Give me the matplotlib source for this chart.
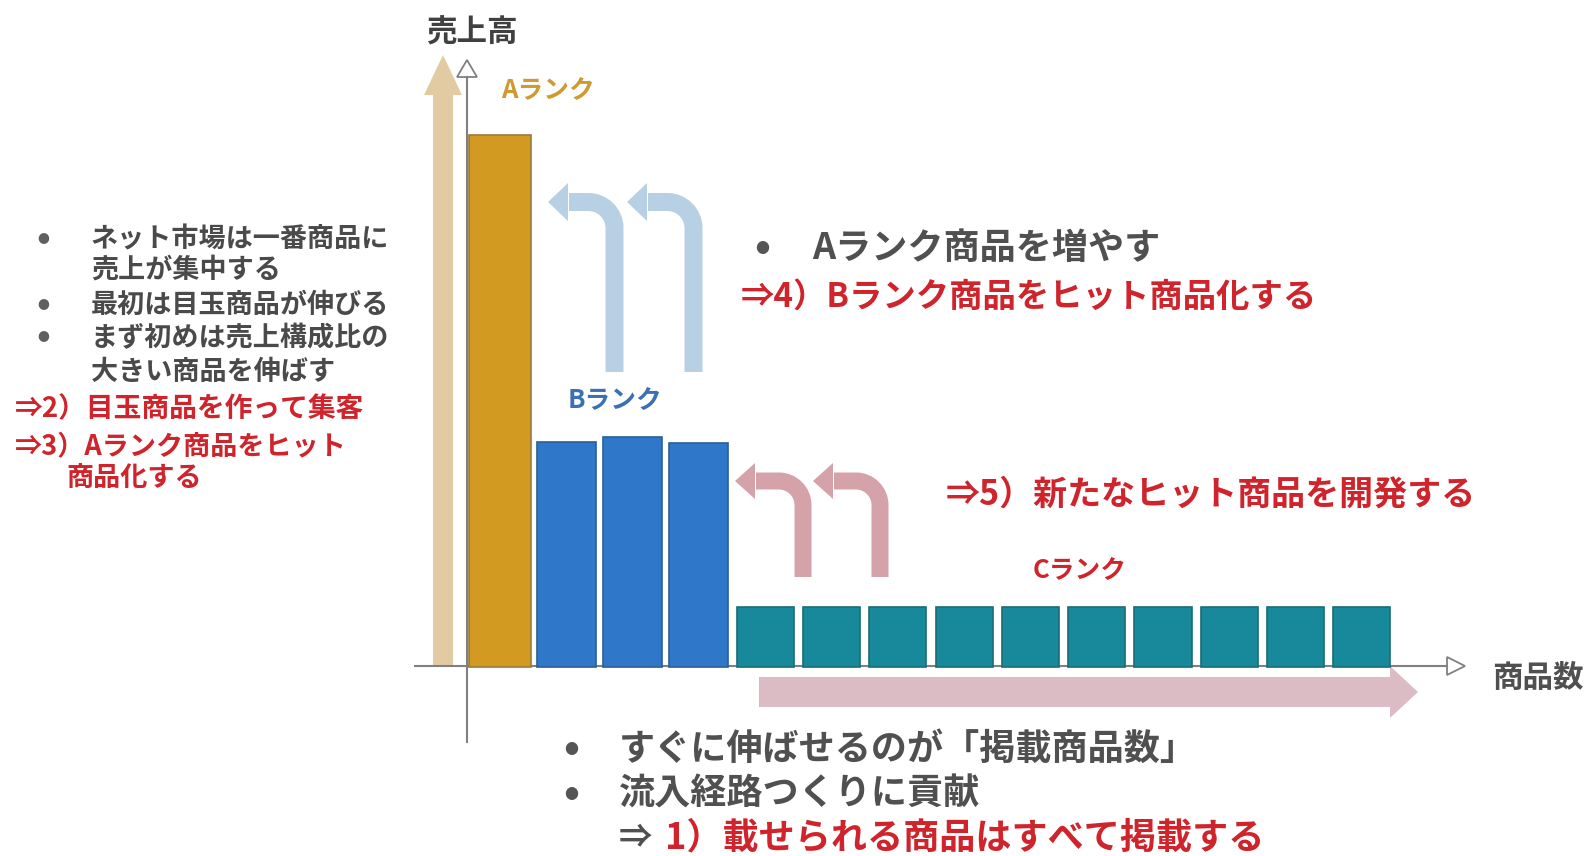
import matplotlib
matplotlib.use('Agg')
import matplotlib.pyplot as plt
from matplotlib.path import Path
from matplotlib.patches import PathPatch, Polygon, FancyArrow

plt.rcParams['font.family'] = ['Noto Sans CJK JP', 'DejaVu Sans']

# ---- data ----
ranks = ['A', 'B', 'B', 'B', 'C', 'C', 'C', 'C', 'C', 'C', 'C', 'C', 'C', 'C']
sales = [10.0, 4.23, 4.32, 4.21, 1.13, 1.13, 1.13, 1.13, 1.13, 1.13, 1.13, 1.13, 1.13, 1.13]
rank_labels = ['Aランク', 'Bランク', 'Cランク']

left_notes = ['ネット市場は一番商品に', '売上が集中する', '最初は目玉商品が伸びる',
              'まず初めは売上構成比の', '大きい商品を伸ばす']
left_actions = ['⇒2）目玉商品を作って集客', '⇒3）Aランク商品をヒット', '商品化する']
right_note = 'Aランク商品を増やす'
right_actions = ['⇒4）Bランク商品をヒット商品化する', '⇒5）新たなヒット商品を開発する']
bottom_notes = ['すぐに伸ばせるのが「掲載商品数」', '流入経路つくりに貢献']
bottom_action = '1）載せられる商品はすべて掲載する'

# ---- style ----
W, H = 1592, 856
RED = '#d0242c'
GRAY = '#505050'
bar_style = {
    'A': dict(color='#d39a22', edgecolor='#9a7a40', width=0.935),
    'B': dict(color='#2f78c9', edgecolor='#2a5f96', width=0.89),
    'C': dict(color='#18899a', edgecolor='#1a6d78', width=0.86),
}

fig = plt.figure(figsize=(W / 100, H / 100), dpi=100)
fig.patch.set_facecolor('white')

# overlay in pixel coordinates for the decorations
ov = fig.add_axes([0, 0, 1, 1], zorder=1)
ov.set_xlim(0, W)
ov.set_ylim(H, 0)
ov.axis('off')

# chart axes: bar i centred at 500 + 66.3*i px, baseline at 667 px
ax = fig.add_axes([0, 0, 1, 1], zorder=2)
ax.set_xlim(-500 / 66.3, (W - 500) / 66.3)
ax.set_ylim(-(H - 667) / 53.2, 667 / 53.2)
ax.patch.set_alpha(0)
ax.axis('off')

for i, (r, v) in enumerate(zip(ranks, sales)):
    ax.bar(i, v, linewidth=1.2, **bar_style[r])


def bend_arrow(cx, y0, yh, tip, color, shaft=18, head_h=38, head_len=20, rad=26):
    base = tip + head_len
    k = 0.55 * rad
    verts = [(cx, y0), (cx, yh + rad), (cx, yh + rad - k), (cx - rad + k, yh), (cx - rad, yh),
             (base + 1, yh)]
    codes = [Path.MOVETO, Path.LINETO, Path.CURVE4, Path.CURVE4, Path.CURVE4, Path.LINETO]
    ov.add_patch(PathPatch(Path(verts, codes), fill=False, lw=shaft * 0.72,
                           edgecolor=color, capstyle='butt', joinstyle='miter'))
    ov.add_patch(Polygon([(base, yh - head_h / 2), (tip, yh), (base, yh + head_h / 2)],
                         closed=True, facecolor=color, edgecolor='none'))


# big background arrows
ov.add_patch(FancyArrow(443, 667, 0, 55 - 667, width=20, head_width=38, head_length=40,
                        length_includes_head=True, color='#e2caa2', lw=0))
ov.add_patch(FancyArrow(759, 692, 1418 - 759, 0, width=30, head_width=52, head_length=28,
                        length_includes_head=True, color='#dbbcc5', lw=0))
bend_arrow(614.5, 372, 202, 548, '#b8d0e4')
bend_arrow(693.5, 372, 202, 627, '#b8d0e4')
bend_arrow(803, 577, 481, 735, '#d6a2aa', shaft=17, head_h=36, rad=24)
bend_arrow(880, 577, 481, 813, '#d6a2aa', shaft=17, head_h=36, rad=24)

# axes lines with open arrowheads
AX = '#808080'
ov.plot([467, 467], [742, 77], color=AX, lw=1.5)
ov.plot([415, 1447], [666, 666], color=AX, lw=1.5)
ov.add_patch(Polygon([(457, 77), (477, 77), (467, 60)], closed=True,
                     facecolor='white', edgecolor=AX, lw=1.3))
ov.add_patch(Polygon([(1447, 657), (1447, 675), (1465, 666)], closed=True,
                     facecolor='white', edgecolor=AX, lw=1.3))

# axis titles and rank labels
ov.text(472, 33, '売上高', ha='center', va='center', fontsize=22, weight='bold', color='#404040')
ov.text(1492, 678, '商品数', ha='left', va='center', fontsize=22, weight='bold', color='#505050')
ov.text(501, 91, rank_labels[0], ha='left', va='center', fontsize=18.5, weight='bold', color='#cf9a30')
ov.text(568, 401, rank_labels[1], ha='left', va='center', fontsize=18.5, weight='bold', color='#3a70b5')
ov.text(1033, 571, rank_labels[2], ha='left', va='center', fontsize=18.5, weight='bold', color=RED)

# left block
left_y = [239, 270, 305, 338, 372]
for s, y in zip(left_notes, left_y):
    ov.text(91, y, s, ha='left', va='center', fontsize=19.5, weight='bold', color='#4a4a4a')
for y in (239, 305, 338):
    ov.text(43, y, '●', ha='center', va='center', fontsize=8.5, color='#606060')
ov.text(15, 409, left_actions[0], ha='left', va='center', fontsize=20, weight='bold', color=RED)
ov.text(15, 446, left_actions[1], ha='left', va='center', fontsize=19.5, weight='bold', color=RED)
ov.text(66, 478, left_actions[2], ha='left', va='center', fontsize=19.5, weight='bold', color=RED)

# right block
ov.text(762, 249, '●', ha='center', va='center', fontsize=10, color='#555555')
ov.text(812, 248, right_note, ha='left', va='center', fontsize=26, weight='bold', color=GRAY)
ov.text(741, 297, right_actions[0], ha='left', va='center', fontsize=24, weight='bold', color=RED)
ov.text(946, 494, right_actions[1], ha='left', va='center', fontsize=24.5, weight='bold', color=RED)

# bottom block
for s, y in zip(bottom_notes, [749, 794]):
    ov.text(571, y + 1, '●', ha='center', va='center', fontsize=10, color='#555555')
    ov.text(619, y, s, ha='left', va='center', fontsize=26, weight='bold', color=GRAY)
ov.text(619, 838, '⇒', ha='left', va='center', fontsize=24, weight='bold', color=GRAY)
ov.text(665, 838, bottom_action, ha='left', va='center', fontsize=26, weight='bold', color=RED)

fig.savefig('out.png', dpi=100)
